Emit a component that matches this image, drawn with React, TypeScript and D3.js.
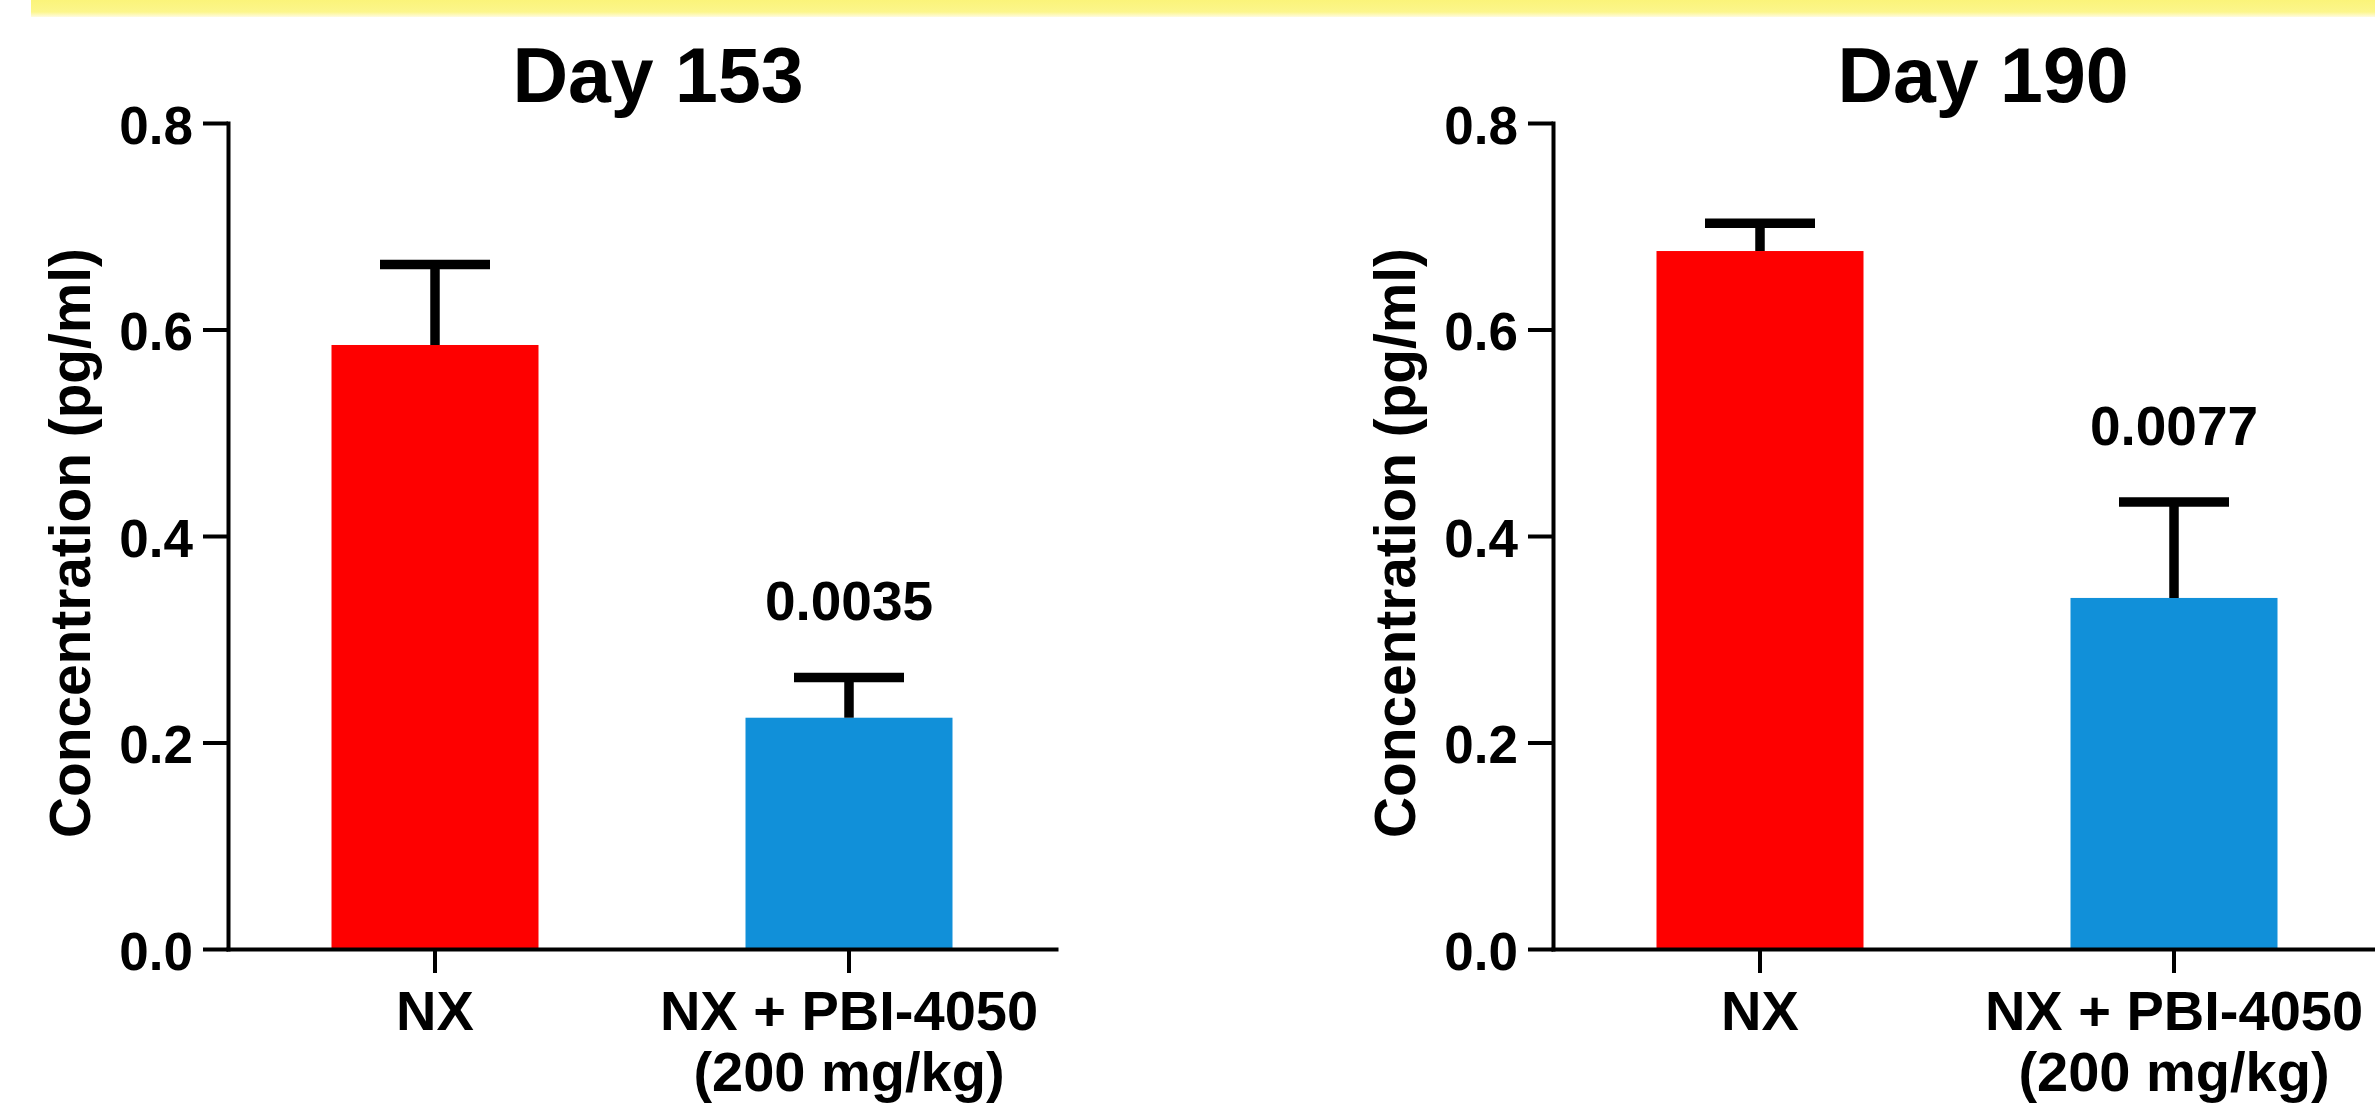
import React, { useEffect, useRef } from 'react';
import * as d3 from 'd3';

// ---- data ----
const categories = ['NX', 'NX + PBI-4050'];
const categoryLines = [['NX'], ['NX + PBI-4050', '(200 mg/kg)']];
const panelTitles = ['Day 153', 'Day 190'];
const day153Means = [0.585, 0.224];
const day153ErrTop = [0.663, 0.263];
const day190Means = [0.676, 0.34];
const day190ErrTop = [0.703, 0.433];
const pValues153 = ['', '0.0035'];
const pValues190 = ['', '0.0077'];
const yTicks = [0, 0.2, 0.4, 0.6, 0.8];
const yLabel = 'Concentration (pg/ml)';
const barColors = ['#fe0000', '#1190d9'];

const W = 2375;
const H = 1105;
const FONT = '"Liberation Sans", Arial, Helvetica, sans-serif';

type PanelProps = {
  offsetX: number;
  title: string;
  means: number[];
  errTop: number[];
  pvals: string[];
};

function Panel({ offsetX, title, means, errTop, pvals }: PanelProps) {
  const yAxisRef = useRef<SVGGElement>(null);
  const xAxisRef = useRef<SVGGElement>(null);

  const x0 = 228;
  const x1 = 1056;
  const y = d3.scaleLinear().domain([0, 0.8]).range([949, 123]);
  const x = d3
    .scaleBand<string>()
    .domain(categories)
    .range([x0, x1])
    .paddingInner(0.5)
    .paddingOuter(0.25);

  useEffect(() => {
    const gy = d3.select(yAxisRef.current as SVGGElement);
    gy.selectAll('*').remove();
    gy.call(
      d3
        .axisLeft(y)
        .tickValues(yTicks)
        .tickSize(25)
        .tickSizeOuter(0)
        .tickPadding(10)
        .tickFormat(d3.format('.1f') as any)
    );
    gy.attr('font-family', FONT).attr('font-size', 53).attr('font-weight', 'bold');
    gy.select('.domain').attr('stroke-width', 4).attr('stroke-linecap', 'square');
    gy.selectAll('.tick line').attr('stroke-width', 4);
    gy.selectAll('.tick text').attr('dy', '0.38em').attr('fill', '#000');

    const gx = d3.select(xAxisRef.current as SVGGElement);
    gx.selectAll('*').remove();
    gx.call(d3.axisBottom(x).tickSize(24).tickSizeOuter(0).tickFormat(() => ''));
    gx.select('.domain').attr('stroke-width', 4).attr('stroke-linecap', 'square');
    gx.selectAll('.tick line').attr('stroke-width', 4);
  }, []);

  const bw = x.bandwidth();
  const capHalf = 55;

  return (
    <g transform={`translate(${offsetX},0)`}>
      <text
        x={658}
        y={102}
        textAnchor="middle"
        fontFamily={FONT}
        fontWeight="bold"
        fontSize={77}
        fill="#000"
      >
        {title}
      </text>
      <text
        transform={`translate(90,543) rotate(-90)`}
        textAnchor="middle"
        fontFamily={FONT}
        fontWeight="bold"
        fontSize={57}
        fill="#000"
        textLength={590}
        lengthAdjust="spacingAndGlyphs"
      >
        {yLabel}
      </text>
      {categories.map((c, i) => {
        const bx = x(c) as number;
        const cx = bx + bw / 2;
        return (
          <g key={c}>
            <rect x={bx} y={y(means[i])} width={bw} height={y(0) - y(means[i])} fill={barColors[i]} />
            <line x1={cx} x2={cx} y1={y(means[i])} y2={y(errTop[i])} stroke="#000" strokeWidth={9.5} />
            <line
              x1={cx - capHalf}
              x2={cx + capHalf}
              y1={y(errTop[i])}
              y2={y(errTop[i])}
              stroke="#000"
              strokeWidth={9.5}
            />
            {pvals[i] && (
              <text
                x={cx}
                y={y(errTop[i]) - 57}
                textAnchor="middle"
                fontFamily={FONT}
                fontWeight="bold"
                fontSize={55}
                fill="#000"
              >
                {pvals[i]}
              </text>
            )}
            {categoryLines[i].map((line, k) => (
              <text
                key={k}
                x={cx}
                y={1030 + k * 61}
                textAnchor="middle"
                fontFamily={FONT}
                fontWeight="bold"
                fontSize={56}
                fill="#000"
              >
                {line}
              </text>
            ))}
          </g>
        );
      })}
      <g ref={xAxisRef} transform={`translate(0,${y(0)})`} color="#000" />
      <g ref={yAxisRef} transform={`translate(${x0},0)`} color="#000" />
    </g>
  );
}

export default function App() {
  return (
    <svg
      width={W}
      height={H}
      viewBox={`0 0 ${W} ${H}`}
      style={{ position: 'absolute', left: 0, top: 0, background: '#fff', display: 'block' }}
    >
      <defs>
        <linearGradient id="band" x1="0" y1="0" x2="0" y2="1">
          <stop offset="0" stopColor="#fbf47a" />
          <stop offset="0.7" stopColor="#fcf68c" />
          <stop offset="1" stopColor="#fffbe0" />
        </linearGradient>
      </defs>
      <rect x={0} y={0} width={W} height={H} fill="#fff" />
      <rect x={31} y={0} width={W - 31} height={17} fill="url(#band)" />
      <Panel offsetX={0} title={panelTitles[0]} means={day153Means} errTop={day153ErrTop} pvals={pValues153} />
      <Panel offsetX={1325} title={panelTitles[1]} means={day190Means} errTop={day190ErrTop} pvals={pValues190} />
    </svg>
  );
}
